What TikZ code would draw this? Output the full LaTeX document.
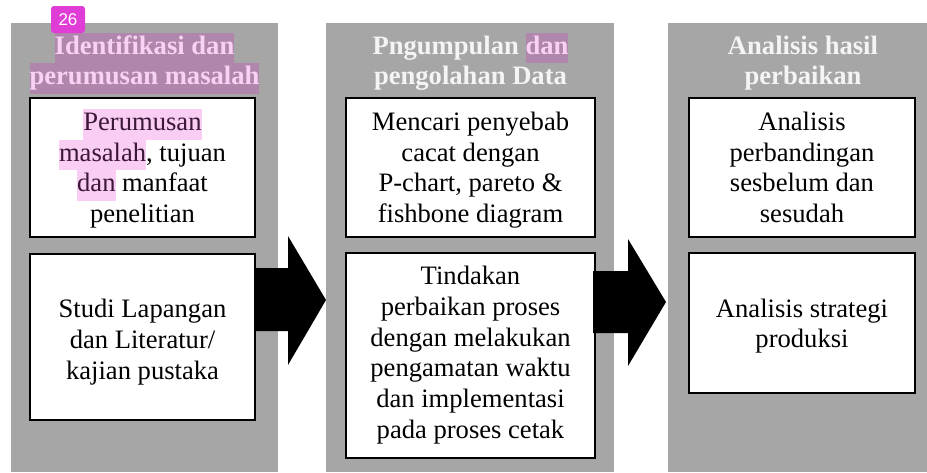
\documentclass[tikz,border=0pt]{standalone}
\usepackage{fontspec}
\setmainfont{Liberation Serif}
\newfontfamily\badgefont{Liberation Sans}
\definecolor{panelgray}{HTML}{A6A6A6}
\definecolor{titlewhite}{HTML}{F4F4F4}
\definecolor{ttlhl}{HTML}{B086AC}
\definecolor{ttlhltext}{HTML}{F8D2F4}
\definecolor{boxhl}{HTML}{F9CDF4}
\definecolor{boxhltext}{HTML}{3C1838}
\definecolor{badgemag}{HTML}{E03CD6}
\newcommand{\hlbox}[1]{{\fboxsep=0pt\colorbox{boxhl}{\color{boxhltext}\strut #1}}}
\newcommand{\hlttl}[1]{{\fboxsep=0pt\colorbox{ttlhl}{\color{ttlhltext}\strut #1}}}
\begin{document}
\begin{tikzpicture}[x=1pt,y=-1pt,
  panel/.style={fill=panelgray, draw=none, inner sep=0pt, minimum height=449pt},
  box/.style={draw=black, line width=1.6pt, fill=white, inner sep=0pt},
  txt/.style={font=\fontsize{26.6}{30.7}\selectfont, align=center, inner sep=0pt, text=black},
  ttl/.style={font=\fontsize{26.6}{30.7}\selectfont\bfseries, align=center, inner sep=0pt, text=titlewhite},
  blockarrow/.style={fill=black, draw=none},
  badge/.style={fill=badgemag, rounded corners=3pt, inner sep=0pt, minimum width=34pt, minimum height=27pt, text=white, font=\badgefont\fontsize{17}{17}\selectfont}
]
\useasboundingbox (0,0) rectangle (927,472);
\fill[white] (0,0) rectangle (927,472);

% panels
\node[panel, minimum width=267pt] (p1) at (144.5,247.5) {};
\node[panel, minimum width=288pt] (p2) at (470,247.5) {};
\node[panel, minimum width=269pt] (p3) at (802.5,247.5) {};

% boxes
\node[box, minimum width=225pt, minimum height=139pt] (l1) at (142.5,167.5) {};
\node[box, minimum width=225pt, minimum height=166pt] (l2) at (142.5,337) {};
\node[box, minimum width=249pt, minimum height=139pt] (m1) at (470.5,167.5) {};
\node[box, minimum width=249pt, minimum height=205pt] (m2) at (470.5,355.5) {};
\node[box, minimum width=226pt, minimum height=139pt] (r1) at (802,167.5) {};
\node[box, minimum width=226pt, minimum height=140pt] (r2) at (802,323) {};

% block arrows
\coordinate (a1) at (254,300);
\coordinate (a2) at (593,302);
\fill[blockarrow] (a1) ++(0,-32) -- ++(34,0) -- ++(0,-32) -- ++(38,64) -- ++(-38,65) -- ++(0,-34) -- ++(-34,0) -- cycle;
\fill[blockarrow] (a2) ++(0,-31) -- ++(35,0) -- ++(0,-32) -- ++(38,63) -- ++(-38,64) -- ++(0,-33) -- ++(-35,0) -- cycle;

% titles
\node[ttl] (t1) at (144.5,63.4) {\hlttl{Identifikasi dan}\\\hlttl{perumusan masalah}};
\node[ttl] (t2) at (470.5,63.4) {\strut Pngumpulan \hlttl{dan}\\pengolahan Data\strut};
\node[ttl] (t3) at (803,63.4) {\strut Analisis hasil\\perbaikan\strut};

% box texts
\node[txt] (tl1) at (142.5,170.4) {\hlbox{Perumusan}\\\hlbox{masalah}, tujuan\\\hlbox{dan} manfaat\\penelitian\strut};
\node[txt] (tl2) at (142.5,342.3) {\strut Studi Lapangan\\dan Literatur/\\kajian pustaka\strut};
\node[txt] (tm1) at (470.5,170.4) {\strut Mencari penyebab\\cacat dengan\\P-chart, pareto \&\\fishbone diagram\strut};
\node[txt] (tm2) at (470.5,355.4) {\strut Tindakan\\perbaikan proses\\dengan melakukan\\pengamatan waktu\\dan implementasi\\pada proses cetak\strut};
\node[txt] (tr1) at (802,170.4) {\strut Analisis\\perbandingan\\sesbelum dan\\sesudah\strut};
\node[txt] (tr2) at (802,326.4) {\strut Analisis strategi\\produksi\strut};

% badge
\node[badge] (n26) at (68,19.5) {26};
\end{tikzpicture}
\end{document}
